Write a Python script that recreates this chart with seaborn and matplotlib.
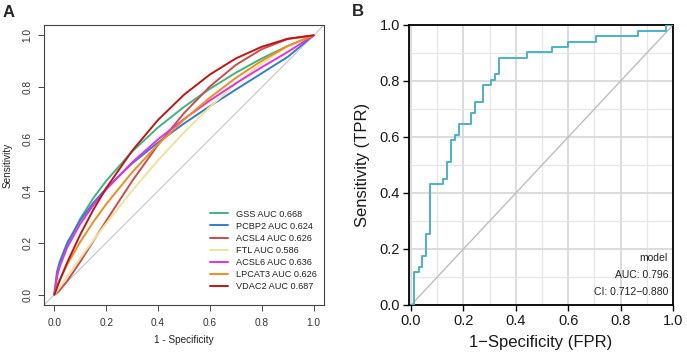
import numpy as np
import pandas as pd
import matplotlib
matplotlib.use("Agg")
import matplotlib.pyplot as plt
import seaborn as sns

# ---- panel A: smoothed ROC curves per gene ----
fpr_grid = [0.0, 0.01, 0.02, 0.05, 0.1, 0.15, 0.2, 0.3, 0.4, 0.5, 0.6, 0.7, 0.8, 0.9, 1.0]
sens_gss = [0.0, 0.070, 0.109, 0.193, 0.293, 0.372, 0.439, 0.552, 0.645, 0.724, 0.794, 0.856, 0.911, 0.959, 1.0]
sens_pcbp2 = [0.0, 0.088, 0.125, 0.201, 0.287, 0.354, 0.410, 0.506, 0.587, 0.660, 0.727, 0.791, 0.854, 0.917, 1.0]
sens_acsl4 = [0.0, 0.006, 0.016, 0.053, 0.127, 0.206, 0.285, 0.438, 0.578, 0.700, 0.803, 0.886, 0.947, 0.986, 1.0]
sens_ftl = [0.0, 0.013, 0.027, 0.070, 0.141, 0.209, 0.275, 0.401, 0.518, 0.626, 0.724, 0.813, 0.892, 0.957, 1.0]
sens_acsl6 = [0.0, 0.071, 0.107, 0.183, 0.273, 0.345, 0.406, 0.510, 0.599, 0.677, 0.749, 0.815, 0.877, 0.936, 1.0]
sens_lpcat3 = [0.0, 0.031, 0.055, 0.117, 0.204, 0.280, 0.349, 0.472, 0.580, 0.675, 0.760, 0.836, 0.902, 0.959, 1.0]
sens_vdac2 = [0.0, 0.027, 0.053, 0.125, 0.232, 0.327, 0.411, 0.555, 0.674, 0.771, 0.849, 0.911, 0.956, 0.987, 1.0]

genes = ["GSS", "PCBP2", "ACSL4", "FTL", "ACSL6", "LPCAT3", "VDAC2"]
aucs = ["0.668", "0.624", "0.626", "0.586", "0.636", "0.626", "0.687"]
gene_colors = ["#3DB57E", "#2F7FD0", "#CC4B4B", "#F0E29A", "#E62FE0", "#EE8E1C", "#C01515"]

# ---- panel B: empirical ROC of the model ----
fpr_b = [0.0, 0.010, 0.029, 0.042, 0.057, 0.074, 0.121, 0.138, 0.151, 0.166, 0.183, 0.230,
         0.245, 0.273, 0.304, 0.321, 0.336, 0.444, 0.538, 0.600, 0.706, 0.865, 0.972, 1.0]
tpr_b = [0.0, 0.118, 0.137, 0.176, 0.255, 0.431, 0.451, 0.510, 0.588, 0.608, 0.647, 0.686,
         0.725, 0.784, 0.804, 0.824, 0.882, 0.902, 0.922, 0.941, 0.961, 0.980, 1.0, 1.0]
model_text = ["model", "AUC: 0.796", "CI: 0.712\u22120.880"]

sens_all = [sens_gss, sens_pcbp2, sens_acsl4, sens_ftl, sens_acsl6, sens_lpcat3, sens_vdac2]
rows = []
for g, a, s in zip(genes, aucs, sens_all):
    for f, v in zip(fpr_grid, s):
        rows.append({"fpr": f, "sens": v, "label": f"{g} AUC {a}"})
df_a = pd.DataFrame(rows)

sns.set_theme(style="white")
plt.rcParams["font.family"] = ["Liberation Sans", "DejaVu Sans"]

W, H = 687, 355
fig = plt.figure(figsize=(W / 100, H / 100), dpi=100)
ax1 = fig.add_axes([44 / W, 50 / H, 280 / W, 280 / H])
ax2 = fig.add_axes([409 / W, 50 / H, 264 / W, 280 / H])

# ---------- A ----------
ax1.axline((0, 0), (1, 1), color="#C4C4C4", lw=0.8, zorder=1)
sns.lineplot(data=df_a, x="fpr", y="sens", hue="label", palette=gene_colors,
             estimator=None, sort=False, lw=1.4, ax=ax1)
ax1.set_xlim(-0.04, 1.04)
ax1.set_ylim(-0.04, 1.04)
ticks = [0, 0.2, 0.4, 0.6, 0.8, 1.0]
labs = [f"{t:.1f}" for t in ticks]
ax1.set_xticks(ticks, labs)
ax1.set_yticks(ticks, labs)
ax1.tick_params(axis="both", direction="out", length=4.3, width=0.7, color="#444444",
                labelsize=7.3, labelcolor="#333333", bottom=True, left=True)
ax1.tick_params(axis="x", pad=5)
ax1.tick_params(axis="y", pad=4, labelrotation=90)
for t in ax1.get_yticklabels():
    t.set_va("center")
for sp in ax1.spines.values():
    sp.set_color("#444444")
    sp.set_linewidth(0.8)
ax1.set_xlabel("1 - Specificity", fontsize=7.2, color="#222222")
ax1.set_ylabel("Sensitivity", fontsize=7.2, color="#222222")
ax1.xaxis.label.set_va("center")
ax1.yaxis.label.set_va("center")
ax1.xaxis.set_label_coords(0.5, (305 - 340) / 280)
ax1.yaxis.set_label_coords((8 - 44) / 280, 0.5)
leg = ax1.legend(loc="upper left", bbox_to_anchor=(205 / W, 1 - 205 / H),
                 bbox_transform=fig.transFigure, frameon=False, fontsize=6.6,
                 handlelength=2.0, handletextpad=0.9, labelspacing=0.34, borderpad=0)
for ln in leg.get_lines():
    ln.set_linewidth(1.4)
for t in leg.get_texts():
    t.set_color("#222222")

# ---------- B ----------
ax2.plot([0, 1], [0, 1], color="#BDBDBD", lw=1.0, zorder=2)
sns.lineplot(x=fpr_b, y=tpr_b, drawstyle="steps-post", estimator=None, sort=False,
             color="#4BB1CA", lw=1.4, ax=ax2, zorder=3)
ax2.set_xlim(-0.008, 1.0)
ax2.set_ylim(0, 1.0)
ax2.set_xticks(ticks, labs)
ax2.set_yticks(ticks, labs)
ax2.set_xticks(np.arange(0.1, 1.0, 0.2), minor=True)
ax2.set_yticks(np.arange(0.1, 1.0, 0.2), minor=True)
ax2.tick_params(which="major", direction="out", length=4, width=1.0, color="black",
                labelsize=10.5, labelcolor="#1A1A1A", pad=2.5, bottom=True, left=True)
ax2.tick_params(which="minor", length=0, bottom=True, left=True)
for sp in ax2.spines.values():
    sp.set_color("black")
    sp.set_linewidth(1.3)
ax2.set_xlabel("1\u2212Specificity (FPR)", fontsize=12, color="#1A1A1A")
ax2.set_ylabel("Sensitivity (TPR)", fontsize=12, color="#1A1A1A")
ax2.xaxis.label.set_va("center")
ax2.yaxis.label.set_va("center")
ax2.xaxis.set_label_coords(0.5, (305 - 343) / 280)
ax2.yaxis.set_label_coords((363 - 409) / 264, 0.5)
for txt, yy in zip(model_text, [0.168, 0.107, 0.046]):
    ax2.text(0.981, yy, txt, ha="right", va="center", fontsize=7.5, color="#222222")
# ggplot-like light grid
ax2.set_axisbelow(True)
ax2.grid(True, which="major", axis="both", color="#D9D9D9", linewidth=1.3)
ax2.grid(True, which="minor", axis="both", color="#E6E6E6", linewidth=0.9)

fig.text(9 / W, 1 - 12.5 / H, "A", fontsize=12, fontweight="bold", ha="center", va="center")
fig.text(358 / W, 1 - 11.5 / H, "B", fontsize=12, fontweight="bold", ha="center", va="center")

fig.savefig("out.png", dpi=100)
